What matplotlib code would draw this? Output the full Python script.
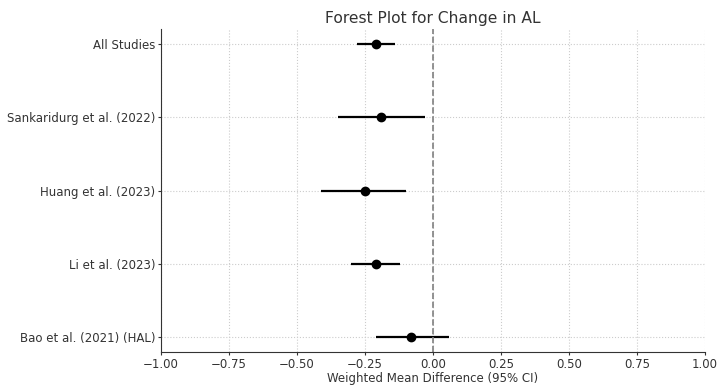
import matplotlib
matplotlib.use('Agg')
import matplotlib.pyplot as plt
import numpy as np

studies = ['All Studies', 'Sankaridurg et al. (2022)', 'Huang et al. (2023)',
           'Li et al. (2023)', 'Bao et al. (2021) (HAL)']
wmd = [-0.21, -0.19, -0.25, -0.21, -0.08]
ci_low = [-0.28, -0.35, -0.41, -0.30, -0.21]
ci_high = [-0.14, -0.03, -0.10, -0.12, 0.06]

wmd = np.array(wmd)
err = [wmd - np.array(ci_low), np.array(ci_high) - wmd]
y = np.arange(len(studies))[::-1]

fig, ax = plt.subplots(figsize=(7.18, 3.87), dpi=100)
ax.errorbar(wmd, y, xerr=err, fmt='o', color='black', ecolor='black',
            elinewidth=1.6, markersize=6, capsize=0)
ax.axvline(0, color='gray', linestyle='--', linewidth=1.2)

ax.set_yticks(y)
ax.set_yticklabels(studies)
ax.set_xlim(-1, 1)
ax.set_xlabel('Weighted Mean Difference (95% CI)', fontsize=8.5, labelpad=1,
              color='#333333')
ax.set_title('Forest Plot for Change in AL', fontsize=11.2, color='#333333', pad=4)
ax.tick_params(labelsize=8.5, colors='#333333', length=2.5, pad=1.5)
ax.grid(True, linestyle=':', color='#cccccc', linewidth=0.8)
ax.spines['top'].set_visible(False)
ax.spines['right'].set_visible(False)
ax.spines['left'].set_color('#333333')
ax.spines['bottom'].set_color('#333333')

fig.subplots_adjust(left=0.224, right=0.982, top=0.925, bottom=0.09)
fig.savefig('out.png')
